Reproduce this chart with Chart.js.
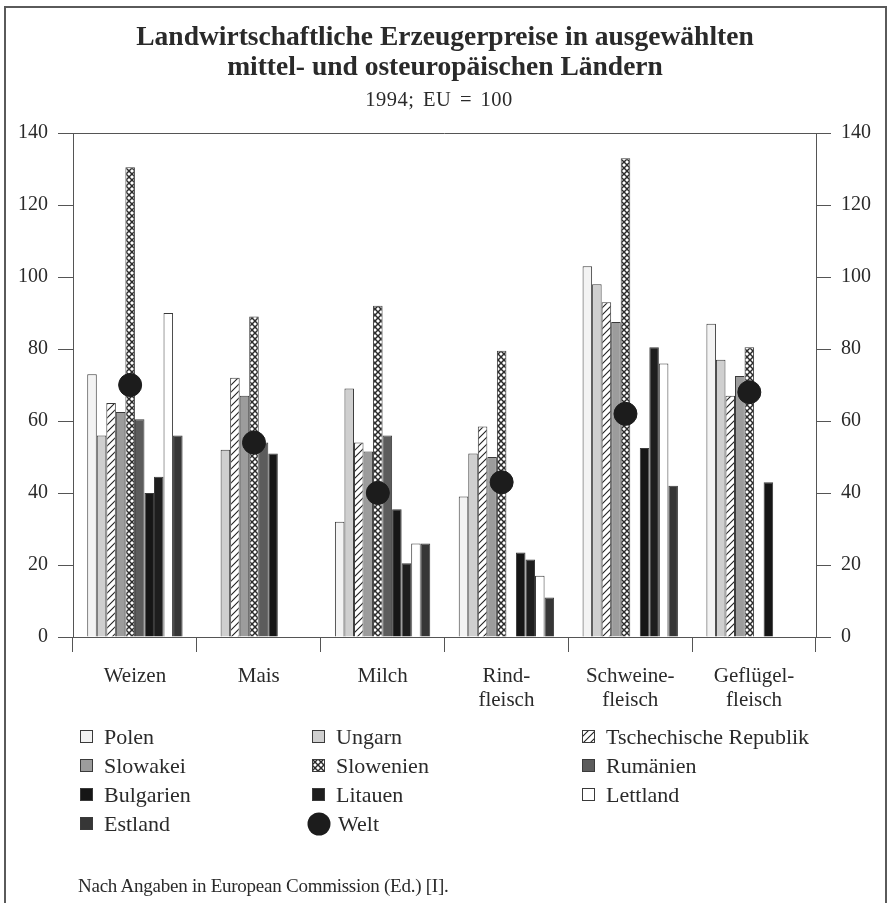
<!DOCTYPE html>
<html>
<head>
<meta charset="utf-8">
<script src="https://cdn.jsdelivr.net/npm/chart.js@4.4.0/dist/chart.umd.min.js"></script>
<style>
  body { margin: 0; background: #fff; font-family: "Liberation Serif", "Times New Roman", serif; color: #222; }
  #wrap { position: relative; width: 888px; height: 903px; overflow: hidden; }
  #frame { position: absolute; left: 4px; top: 6px; width: 879px; height: 930px; border: 2px solid #5a5a5a; pointer-events: none; }
  #chart { position: absolute; left: 0; top: 0; }
  .title { position: absolute; left: 0; width: 890px; text-align: center; font-weight: bold; font-size: 27.5px; line-height: 30px; top: 21px; color: #2a2a2a; }
  .subtitle { position: absolute; left: 0; width: 878px; text-align: center; font-size: 20.5px; word-spacing: 3px; letter-spacing: 0.5px; top: 88px; color: #2a2a2a; }
  #legend { position: absolute; left: 80px; top: 722px; display: grid; grid-template-columns: 232px 270px 240px; grid-auto-rows: 29px; }
  .item { display: flex; align-items: center; font-size: 22px; color: #2a2a2a; }
  .item canvas { margin-right: 11px; }
  .footer { position: absolute; left: 78px; top: 875px; font-size: 19px; letter-spacing: -0.25px; color: #2a2a2a; }
</style>
</head>
<body>
<div id="wrap">
  <canvas id="chart" width="888" height="903"></canvas>
  <div class="title">Landwirtschaftliche Erzeugerpreise in ausgewählten<br>mittel- und osteuropäischen Ländern</div>
  <div class="subtitle">1994; EU = 100</div>
  <div id="legend"></div>
  <div class="footer">Nach Angaben in European Commission (Ed.) [I].</div>
  <div id="frame"></div>
</div>
<script>
// categories and values (index 100 = EU price level)
const categories = [['Weizen'], ['Mais'], ['Milch'], ['Rind-', 'fleisch'], ['Schweine-', 'fleisch'], ['Geflügel-', 'fleisch']];
const polen      = [73, null, 32, 39, 103, 87];
const ungarn     = [56, 52, 69, 51, 98, 77];
const tschechien = [65, 72, 54, 58.5, 93, 67];
const slowakei   = [62.5, 67, 51.5, 50, 87.5, 72.5];
const slowenien  = [130.5, 89, 92, 79.5, 133, 80.5];
const rumaenien  = [60.5, 54, 56, null, null, null];
const bulgarien  = [40, 51, 35.5, 23.5, 52.5, 43];
const litauen    = [44.5, null, 20.5, 21.5, 80.5, null];
const lettland   = [90, null, 26, 17, 76, null];
const estland    = [56, null, 26, 11, 42, null];
const welt       = [70, 54, 40, 43, 62, 68];
const yTicks     = [0, 20, 40, 60, 80, 100, 120, 140];

// fill patterns
function makeFill(kind) {
    const c = document.createElement('canvas');
    const g = c.getContext('2d');
    if (kind === 'hatch') {
        c.width = c.height = 7;
        g.fillStyle = '#fff';
        g.fillRect(0, 0, 7, 7);
        g.strokeStyle = '#222';
        g.lineWidth = 1.1;
        g.beginPath();
        g.moveTo(0, 7); g.lineTo(7, 0);
        g.moveTo(-1, 1); g.lineTo(1, -1);
        g.moveTo(6, 8); g.lineTo(8, 6);
        g.stroke();
    } else if (kind === 'cross') {
        c.width = c.height = 6;
        g.fillStyle = '#fff';
        g.fillRect(0, 0, 6, 6);
        g.strokeStyle = '#2a2a2a';
        g.lineWidth = 1.5;
        g.beginPath();
        g.moveTo(0, 0); g.lineTo(6, 6);
        g.moveTo(6, 0); g.lineTo(0, 6);
        g.stroke();
    } else {
        return kind;
    }
    return g.createPattern(c, 'repeat');
}

const series = [
    { label: 'Polen', data: polen, fill: '#f3f3f3' },
    { label: 'Ungarn', data: ungarn, fill: '#cfcfcf' },
    { label: 'Tschechische Republik', data: tschechien, fill: 'hatch' },
    { label: 'Slowakei', data: slowakei, fill: '#9c9c9c' },
    { label: 'Slowenien', data: slowenien, fill: 'cross' },
    { label: 'Rumänien', data: rumaenien, fill: '#5c5c5c' },
    { label: 'Bulgarien', data: bulgarien, fill: '#161616' },
    { label: 'Litauen', data: litauen, fill: '#1e1e1e' },
    { label: 'Lettland', data: lettland, fill: '#ffffff' },
    { label: 'Estland', data: estland, fill: '#363636' }
];

const datasets = series.map(s => ({
    type: 'bar',
    label: s.label,
    data: s.data,
    backgroundColor: makeFill(s.fill),
    borderColor: '#3a3a3a',
    borderWidth: 1,
    order: 1,
    categoryPercentage: 0.77,
    barPercentage: 1.0
}));

datasets.push({
    type: 'line',
    label: 'Welt',
    data: welt,
    showLine: false,
    pointRadius: 11.5,
    pointBackgroundColor: '#1c1c1c',
    pointBorderColor: '#1c1c1c',
    order: 0
});

// Welt dots sit on the Slowenien bar
const alignWelt = {
    id: 'alignWelt',
    afterDatasetsUpdate(chart) {
        const slo = chart.getDatasetMeta(4).data;
        const w = chart.getDatasetMeta(10).data;
        w.forEach((p, i) => { if (slo[i]) p.x = slo[i].x; });
    }
};

const topLine = {
    id: 'topLine',
    afterDraw(chart) {
        const { ctx, chartArea } = chart;
        ctx.save();
        ctx.strokeStyle = '#555';
        ctx.lineWidth = 1;
        ctx.beginPath();
        ctx.moveTo(chartArea.left, chartArea.top + 0.5);
        ctx.lineTo(chartArea.right, chartArea.top + 0.5);
        ctx.stroke();
        ctx.restore();
    }
};

const tickFont = { family: 'Liberation Serif', size: 20 };

const yAxis = (pos, w) => ({
    position: pos,
    min: 0,
    max: 140,
    afterBuildTicks: s => { s.ticks = yTicks.map(v => ({ value: v })); },
    afterFit: s => { s.width = w; },
    grid: { drawOnChartArea: false, tickLength: 15, color: '#555' },
    border: { display: true, color: '#555' },
    ticks: { font: tickFont, color: '#2a2a2a', padding: 10 }
});

new Chart(document.getElementById('chart').getContext('2d'), {
    data: { labels: categories, datasets: datasets },
    plugins: [alignWelt, topLine],
    options: {
        responsive: false,
        animation: false,
        devicePixelRatio: 1,
        layout: { padding: { top: 133, left: 0, right: 0, bottom: 0 } },
        plugins: { legend: { display: false }, tooltip: { enabled: false } },
        scales: {
            x: {
                offset: true,
                afterFit: s => { s.height = 266; },
                grid: { drawOnChartArea: false, offset: true, tickLength: 15, color: '#555' },
                border: { display: true, color: '#555' },
                ticks: { font: { family: 'Liberation Serif', size: 21, lineHeight: 1.15 }, color: '#2a2a2a', padding: 12, maxRotation: 0 }
            },
            y: yAxis('left', 73),
            y2: yAxis('right', 72)
        }
    },
});

// legend, in the same row-major order as the printed key
const legend = document.getElementById('legend');
datasets.forEach(ds => {
    const item = document.createElement('div');
    item.className = 'item';
    const sw = document.createElement('canvas');
    const g = sw.getContext('2d');
    if (ds.type === 'line') {
        sw.width = sw.height = 24;
        g.fillStyle = ds.pointBackgroundColor;
        g.beginPath();
        g.arc(12, 12, 11.5, 0, Math.PI * 2);
        g.fill();
        sw.style.marginLeft = '-5px';
        sw.style.marginRight = '7px';
    } else {
        sw.width = sw.height = 13;
        g.fillStyle = ds.backgroundColor;
        g.fillRect(0, 0, 13, 13);
        g.strokeStyle = '#3a3a3a';
        g.strokeRect(0.5, 0.5, 12, 12);
    }
    item.appendChild(sw);
    item.appendChild(document.createTextNode(ds.label));
    legend.appendChild(item);
});
</script>
</body>
</html>
